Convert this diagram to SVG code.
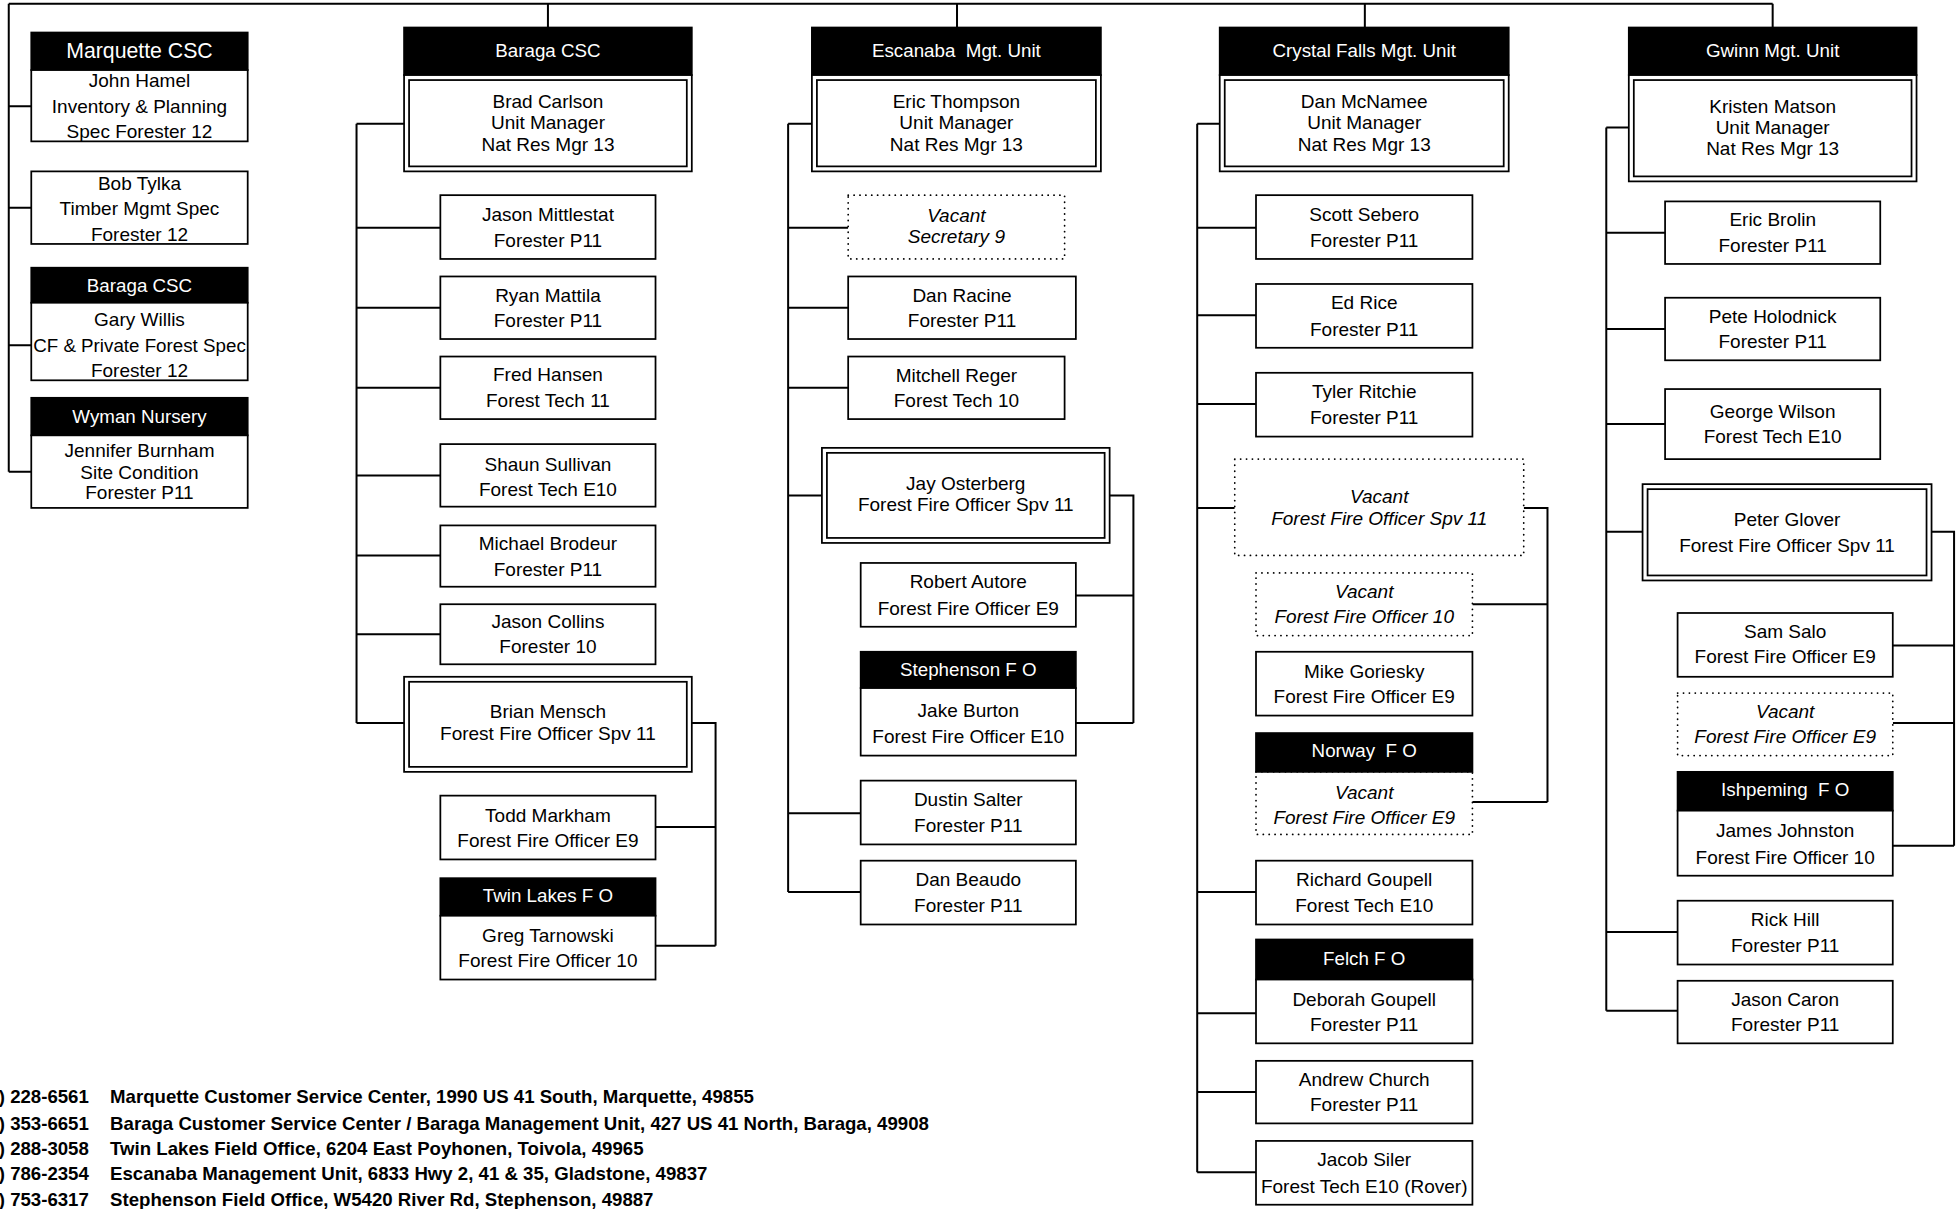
<svg xmlns="http://www.w3.org/2000/svg" width="1959" height="1209" viewBox="0 0 1959 1209">
<style>
.b{fill:#fff;stroke:#000;stroke-width:1.4}
.h{fill:#000;stroke:#000;stroke-width:1.4}
.d{fill:#fff;stroke:#000;stroke-width:1.4;stroke-dasharray:0.1 4.6;stroke-linecap:round}
.c{fill:none;stroke:#000;stroke-width:1.6}
text{font-family:"Liberation Sans",Arial,sans-serif;font-size:15.2px;text-anchor:middle;fill:#000}
.w{fill:#fff;font-size:15px}
.i{font-style:italic}
.f{font-weight:bold;font-size:14.9px;text-anchor:start}
</style>
<rect width="1959" height="1209" fill="#fff"/>
<g transform="scale(1.251)">
<g id="connectors">
<path class="c" d="M7 3H1417M438 3V22M765 3V22M1091 3V22M1417 3V22"/>
<path class="c" d="M7 3V377M7 85H25M7 166H25M7 276H25M7 377H25"/>
<path class="c" d="M285 99V578M285 99H323M285 182H352M285 246H352M285 310H352M285 380H352M285 444H352M285 507H352M285 578H323"/>
<path class="c" d="M553 578H572V756M524 661H572M524 756H572"/>
<path class="c" d="M630 99V713M630 99H649M630 182H678M630 246H678M630 310H678M630 396H657M630 650H688M630 713H688"/>
<path class="c" d="M887 396H906V578M860 476H906M860 578H906"/>
<path class="c" d="M957 99V937M957 99H975M957 182H1004M957 252H1004M957 323H1004M957 406H987M957 713H1004M957 810H1004M957 873H1004M957 937H1004"/>
<path class="c" d="M1218 406H1237V641M1177 483H1237M1177 641H1237"/>
<path class="c" d="M1284 102V808M1284 102H1302M1284 186H1331M1284 263H1331M1284 339H1331M1284 425H1313M1284 745H1341M1284 808H1341"/>
<path class="c" d="M1544 425H1562V676M1513 516H1562M1513 578H1562M1513 676H1562"/>
</g>

<g id="marquette-csc">
<rect class="h" x="25" y="26" width="173" height="30"/>
<rect class="b" x="25" y="56" width="173" height="57"/>
<text class="w" x="111.5" y="46" style="font-size:17px">Marquette CSC</text>
<text x="111.5" y="69.5">John Hamel</text>
<text x="111.5" y="90.5">Inventory &amp; Planning</text>
<text x="111.5" y="110.5">Spec Forester 12</text>
</g>
<g id="bob-tylka">
<rect class="b" x="25" y="137" width="173" height="58"/>
<text x="111.5" y="151.5">Bob Tylka</text>
<text x="111.5" y="171.5">Timber Mgmt Spec</text>
<text x="111.5" y="192.5">Forester 12</text>
</g>
<g id="gary-willis">
<rect class="h" x="25" y="214" width="173" height="28"/>
<rect class="b" x="25" y="242" width="173" height="62"/>
<text class="w" x="111.5" y="233.5">Baraga CSC</text>
<text x="111.5" y="260.5">Gary Willis</text>
<text x="111.5" y="281.5" style="font-size:15px">CF &amp; Private Forest Spec</text>
<text x="111.5" y="301.5">Forester 12</text>
</g>
<g id="jennifer-burnham">
<rect class="h" x="25" y="318" width="173" height="30"/>
<rect class="b" x="25" y="348" width="173" height="58"/>
<text class="w" x="111.5" y="338.5">Wyman Nursery</text>
<text x="111.5" y="365.5">Jennifer Burnham</text>
<text x="111.5" y="382.5">Site Condition</text>
<text x="111.5" y="398.5">Forester P11</text>
</g>

<g id="baraga-csc">
<rect class="h" x="323" y="22" width="230" height="38"/>
<rect class="b" x="323" y="60" width="230" height="77"/>
<rect class="b" x="327" y="64" width="222" height="69"/>
<text class="w" x="438" y="45.5">Baraga CSC</text>
<text x="438" y="86.5">Brad Carlson</text>
<text x="438" y="103.5">Unit Manager</text>
<text x="438" y="120.5">Nat Res Mgr 13</text>
</g>
<g id="jason-mittlestat">
<rect class="b" x="352" y="156" width="172" height="51"/>
<text x="438" y="176.3">Jason Mittlestat</text><text x="438" y="197.3">Forester P11</text>
</g>
<g id="ryan-mattila">
<rect class="b" x="352" y="221" width="172" height="50"/>
<text x="438" y="241.3">Ryan Mattila</text><text x="438" y="261.3">Forester P11</text>
</g>
<g id="fred-hansen">
<rect class="b" x="352" y="285" width="172" height="50"/>
<text x="438" y="304.3">Fred Hansen</text><text x="438" y="325.3">Forest Tech 11</text>
</g>
<g id="shaun-sullivan">
<rect class="b" x="352" y="355" width="172" height="50"/>
<text x="438" y="376.3">Shaun Sullivan</text><text x="438" y="396.3">Forest Tech E10</text>
</g>
<g id="michael-brodeur">
<rect class="b" x="352" y="420" width="172" height="49"/>
<text x="438" y="439.3">Michael Brodeur</text><text x="438" y="460.3">Forester P11</text>
</g>
<g id="jason-collins">
<rect class="b" x="352" y="483" width="172" height="48"/>
<text x="438" y="502.3">Jason Collins</text><text x="438" y="522.3">Forester 10</text>
</g>
<g id="brian-mensch">
<rect class="b" x="323" y="541" width="230" height="76"/>
<rect class="b" x="327" y="545" width="222" height="68"/>
<text x="438" y="574.3">Brian Mensch</text><text x="438" y="591.3">Forest Fire Officer Spv 11</text>
</g>
<g id="todd-markham">
<rect class="b" x="352" y="636" width="172" height="51"/>
<text x="438" y="657.3">Todd Markham</text><text x="438" y="677.3">Forest Fire Officer E9</text>
</g>
<g id="greg-tarnowski">
<rect class="h" x="352" y="702" width="172" height="30"/>
<rect class="b" x="352" y="732" width="172" height="51"/>
<text class="w" x="438" y="721.3">Twin Lakes F O</text>
<text x="438" y="753.3">Greg Tarnowski</text><text x="438" y="773.3">Forest Fire Officer 10</text>
</g>

<g id="escanaba-mgt-unit">
<rect class="h" x="649" y="22" width="231" height="38"/>
<rect class="b" x="649" y="60" width="231" height="77"/>
<rect class="b" x="653" y="64" width="223" height="69"/>
<text class="w" x="764.5" y="45.5" xml:space="preserve">Escanaba  Mgt. Unit</text>
<text x="764.5" y="86.5">Eric Thompson</text>
<text x="764.5" y="103.5">Unit Manager</text>
<text x="764.5" y="120.5">Nat Res Mgr 13</text>
</g>
<g id="vacant-secretary">
<rect class="d" x="678" y="156" width="173" height="51"/>
<text class="i" x="764.5" y="177.3">Vacant</text><text class="i" x="764.5" y="194.3">Secretary 9</text>
</g>
<g id="dan-racine">
<rect class="b" x="678" y="221" width="182" height="50"/>
<text x="769" y="241.3">Dan Racine</text><text x="769" y="261.3">Forester P11</text>
</g>
<g id="mitchell-reger">
<rect class="b" x="678" y="285" width="173" height="50"/>
<text x="764.5" y="305.3">Mitchell Reger</text><text x="764.5" y="325.3">Forest Tech 10</text>
</g>
<g id="jay-osterberg">
<rect class="b" x="657" y="358" width="230" height="76"/>
<rect class="b" x="661" y="362" width="222" height="68"/>
<text x="772" y="391.3">Jay Osterberg</text><text x="772" y="408.3">Forest Fire Officer Spv 11</text>
</g>
<g id="robert-autore">
<rect class="b" x="688" y="450" width="172" height="51"/>
<text x="774" y="470.3">Robert Autore</text><text x="774" y="491.3">Forest Fire Officer E9</text>
</g>
<g id="jake-burton">
<rect class="h" x="688" y="521" width="172" height="29"/>
<rect class="b" x="688" y="550" width="172" height="54"/>
<text class="w" x="774" y="540.3">Stephenson F O</text>
<text x="774" y="573.3">Jake Burton</text><text x="774" y="594.3">Forest Fire Officer E10</text>
</g>
<g id="dustin-salter">
<rect class="b" x="688" y="624" width="172" height="51"/>
<text x="774" y="644.3">Dustin Salter</text><text x="774" y="665.3">Forester P11</text>
</g>
<g id="dan-beaudo">
<rect class="b" x="688" y="688" width="172" height="51"/>
<text x="774" y="708.3">Dan Beaudo</text><text x="774" y="729.3">Forester P11</text>
</g>

<g id="crystal-falls-mgt-unit">
<rect class="h" x="975" y="22" width="231" height="38"/>
<rect class="b" x="975" y="60" width="231" height="77"/>
<rect class="b" x="979" y="64" width="223" height="69"/>
<text class="w" x="1090.5" y="45.5">Crystal Falls Mgt. Unit</text>
<text x="1090.5" y="86.5">Dan McNamee</text>
<text x="1090.5" y="103.5">Unit Manager</text>
<text x="1090.5" y="120.5">Nat Res Mgr 13</text>
</g>
<g id="scott-sebero">
<rect class="b" x="1004" y="156" width="173" height="51"/>
<text x="1090.5" y="176.3">Scott Sebero</text><text x="1090.5" y="197.3">Forester P11</text>
</g>
<g id="ed-rice">
<rect class="b" x="1004" y="227" width="173" height="51"/>
<text x="1090.5" y="247.3">Ed Rice</text><text x="1090.5" y="268.3">Forester P11</text>
</g>
<g id="tyler-ritchie">
<rect class="b" x="1004" y="298" width="173" height="51"/>
<text x="1090.5" y="318.3">Tyler Ritchie</text><text x="1090.5" y="339.3">Forester P11</text>
</g>
<g id="vacant-ffo-spv11-cf">
<rect class="d" x="987" y="367" width="231" height="77"/>
<text class="i" x="1102.5" y="402.3">Vacant</text><text class="i" x="1102.5" y="419.3">Forest Fire Officer Spv 11</text>
</g>
<g id="vacant-ffo10-cf">
<rect class="d" x="1004" y="458" width="173" height="50"/>
<text class="i" x="1090.5" y="478.3">Vacant</text><text class="i" x="1090.5" y="498.3">Forest Fire Officer 10</text>
</g>
<g id="mike-goriesky">
<rect class="b" x="1004" y="521" width="173" height="51"/>
<text x="1090.5" y="542.3">Mike Goriesky</text><text x="1090.5" y="562.3">Forest Fire Officer E9</text>
</g>
<g id="norway-fo">
<rect class="d" x="1004" y="617" width="173" height="50"/>
<rect class="h" x="1004" y="586" width="173" height="31"/>
<text class="w" x="1090.5" y="605.3" xml:space="preserve">Norway  F O</text>
<text class="i" x="1090.5" y="638.3">Vacant</text><text class="i" x="1090.5" y="658.3">Forest Fire Officer E9</text>
</g>
<g id="richard-goupell">
<rect class="b" x="1004" y="688" width="173" height="51"/>
<text x="1090.5" y="708.3">Richard Goupell</text><text x="1090.5" y="729.3">Forest Tech E10</text>
</g>
<g id="deborah-goupell">
<rect class="h" x="1004" y="751" width="173" height="32"/>
<rect class="b" x="1004" y="783" width="173" height="51"/>
<text class="w" x="1090.5" y="771.3">Felch F O</text>
<text x="1090.5" y="804.3">Deborah Goupell</text><text x="1090.5" y="824.3">Forester P11</text>
</g>
<g id="andrew-church">
<rect class="b" x="1004" y="848" width="173" height="50"/>
<text x="1090.5" y="868.3">Andrew Church</text><text x="1090.5" y="888.3">Forester P11</text>
</g>
<g id="jacob-siler">
<rect class="b" x="1004" y="912" width="173" height="51"/>
<text x="1090.5" y="932.3">Jacob Siler</text><text x="1090.5" y="953.3">Forest Tech E10 (Rover)</text>
</g>

<g id="gwinn-mgt-unit">
<rect class="h" x="1302" y="22" width="230" height="38"/>
<rect class="b" x="1302" y="60" width="230" height="85"/>
<rect class="b" x="1306" y="64" width="222" height="77"/>
<text class="w" x="1417" y="45.5">Gwinn Mgt. Unit</text>
<text x="1417" y="90.3">Kristen Matson</text>
<text x="1417" y="107.3">Unit Manager</text>
<text x="1417" y="124.3">Nat Res Mgr 13</text>
</g>
<g id="eric-brolin">
<rect class="b" x="1331" y="161" width="172" height="50"/>
<text x="1417" y="180.3">Eric Brolin</text><text x="1417" y="201.3">Forester P11</text>
</g>
<g id="pete-holodnick">
<rect class="b" x="1331" y="238" width="172" height="50"/>
<text x="1417" y="258.3">Pete Holodnick</text><text x="1417" y="278.3">Forester P11</text>
</g>
<g id="george-wilson">
<rect class="b" x="1331" y="311" width="172" height="56"/>
<text x="1417" y="334.3">George Wilson</text><text x="1417" y="354.3">Forest Tech E10</text>
</g>
<g id="peter-glover">
<rect class="b" x="1313" y="387" width="231" height="77"/>
<rect class="b" x="1317" y="391" width="223" height="69"/>
<text x="1428.5" y="420.3">Peter Glover</text><text x="1428.5" y="441.3">Forest Fire Officer Spv 11</text>
</g>
<g id="sam-salo">
<rect class="b" x="1341" y="490" width="172" height="51"/>
<text x="1427" y="510.3">Sam Salo</text><text x="1427" y="530.3">Forest Fire Officer E9</text>
</g>
<g id="vacant-ffo-e9-gwinn">
<rect class="d" x="1341" y="554" width="172" height="50"/>
<text class="i" x="1427" y="574.3">Vacant</text><text class="i" x="1427" y="594.3">Forest Fire Officer E9</text>
</g>
<g id="james-johnston">
<rect class="h" x="1341" y="617" width="172" height="31"/>
<rect class="b" x="1341" y="648" width="172" height="52"/>
<text class="w" x="1427" y="636.3" xml:space="preserve">Ishpeming  F O</text>
<text x="1427" y="669.3">James Johnston</text><text x="1427" y="690.3">Forest Fire Officer 10</text>
</g>
<g id="rick-hill">
<rect class="b" x="1341" y="720" width="172" height="51"/>
<text x="1427" y="740.3">Rick Hill</text><text x="1427" y="761.3">Forester P11</text>
</g>
<g id="jason-caron">
<rect class="b" x="1341" y="784" width="172" height="50"/>
<text x="1427" y="804.3">Jason Caron</text><text x="1427" y="824.3">Forester P11</text>
</g>

<g id="footer">
<text class="f" x="-1" y="882">) 228-6561</text><text class="f" x="88" y="882">Marquette Customer Service Center, 1990 US 41 South, Marquette, 49855</text>
<text class="f" x="-1" y="903">) 353-6651</text><text class="f" x="88" y="903">Baraga Customer Service Center / Baraga Management Unit, 427 US 41 North, Baraga, 49908</text>
<text class="f" x="-1" y="923">) 288-3058</text><text class="f" x="88" y="923">Twin Lakes Field Office, 6204 East Poyhonen, Toivola, 49965</text>
<text class="f" x="-1" y="943">) 786-2354</text><text class="f" x="88" y="943">Escanaba Management Unit, 6833 Hwy 2, 41 &amp; 35, Gladstone, 49837</text>
<text class="f" x="-1" y="964">) 753-6317</text><text class="f" x="88" y="964">Stephenson Field Office, W5420 River Rd, Stephenson, 49887</text>
</g>
</g>
</svg>
